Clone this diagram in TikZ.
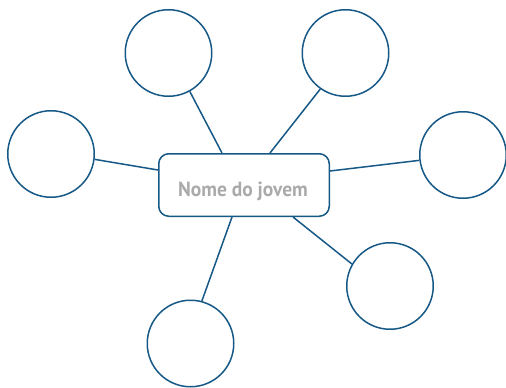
\documentclass[tikz,border=0pt]{standalone}
\usepackage{fontspec}
\setmainfont{Open Sans}
\newfontfamily\namefont[FakeStretch=0.95]{PT Sans}
\definecolor{linkblue}{RGB}{22,88,134}
\definecolor{namegray}{RGB}{170,170,170}
\tikzset{
  idea/.style={circle, draw=linkblue, line width=1.5pt, minimum size=86.5pt, inner sep=0pt},
  centre/.style={rectangle, rounded corners=10pt, draw=linkblue, line width=1.5pt,
    minimum width=170.5pt, minimum height=62.5pt, inner sep=0pt},
  nametext/.style={anchor=base, inner sep=0pt, text=namegray,
    font=\namefont\bfseries\fontsize{20.5}{24}\selectfont},
  link/.style={draw=linkblue, line width=1.5pt}
}
\begin{document}
\begin{tikzpicture}[x=1pt, y=-1pt]
  \useasboundingbox (0,0) rectangle (506,388);
  % central name box and its label
  \node[centre] (c) at (244,185) {};
  \node[nametext] (name) at ([xshift=-1pt, yshift=-11pt]c.center) {Nome do jovem};
  % surrounding circles
  \node[idea] (tl) at (168.5,53) {};
  \node[idea] (tr) at (345.5,53) {};
  \node[idea] (l)  at (51,154) {};
  \node[idea] (r)  at (463,155) {};
  \node[idea] (br) at (390,286) {};
  \node[idea] (bl) at (190.5,343.5) {};
  % connectors
  \draw[link] ([xshift=-22pt]c.north) -- (tl.-61.7);
  \draw[link] ([xshift=26pt]c.north) -- (tr.-125.3);
  \draw[link] ([yshift=15pt]c.west) -- (l.-7.8);
  \draw[link] ([yshift=14pt]c.east) -- (r.187.9);
  \draw[link] ([xshift=49pt]c.south) -- (br.150.6);
  \draw[link] ([xshift=-12pt]c.south) -- (bl.75.2);
\end{tikzpicture}
\end{document}
